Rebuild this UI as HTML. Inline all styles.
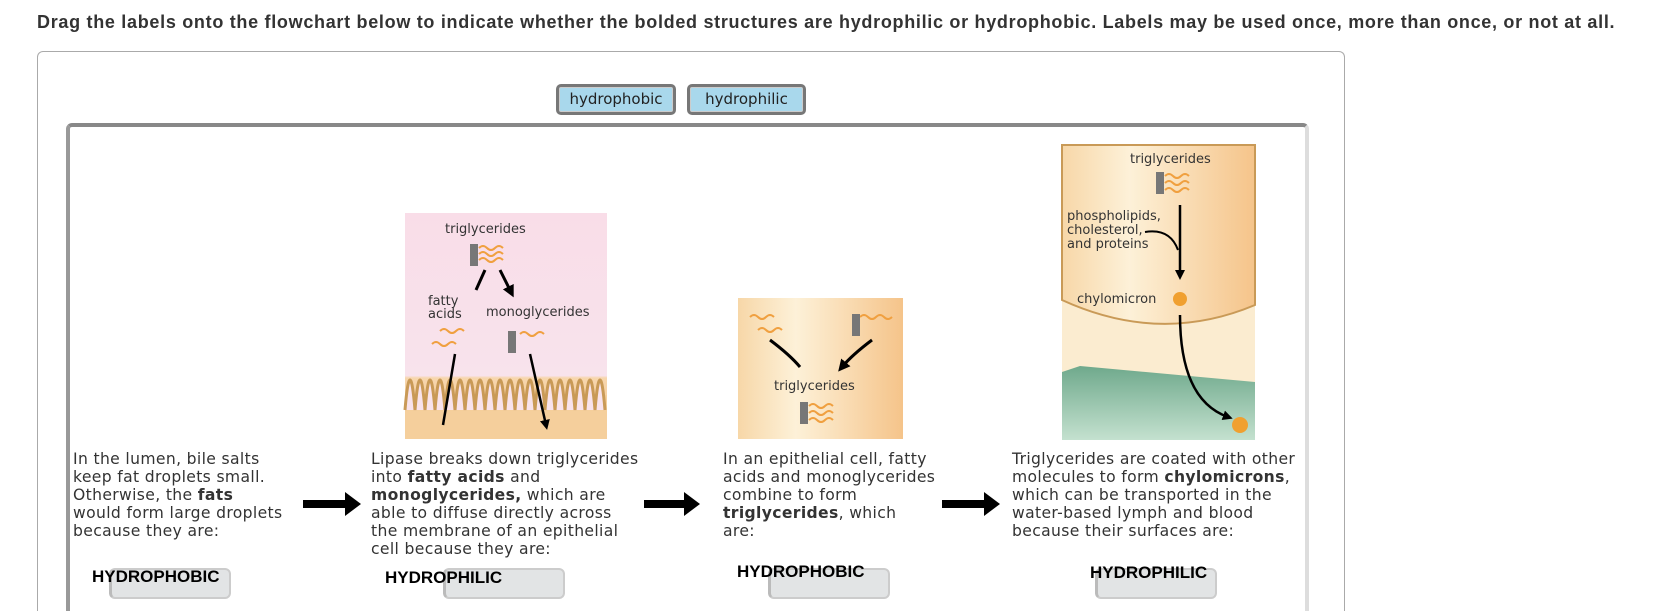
<!DOCTYPE html>
<html style="overflow:hidden;height:611px"><head><meta charset="utf-8"><style>
html,body{margin:0;width:1654px;height:611px;overflow:hidden;background:#fff}
body{position:relative;font-family:"Liberation Sans",Arial,sans-serif}
.t{position:absolute;left:37px;top:12px;font-weight:bold;font-size:18px;letter-spacing:0.7px;color:#333;white-space:nowrap}
.outer{position:absolute;left:37px;top:51px;width:1308px;height:560px;border:1px solid #aaa;border-bottom:none;border-radius:6px 6px 0 0;box-sizing:border-box}
.btn{position:absolute;top:84px;height:31px;background:#a9d8ec;border:3px solid #777;border-radius:5px;box-sizing:border-box;font-family:"DejaVu Sans",sans-serif;font-size:15px;color:#222;text-align:center;line-height:24px;box-shadow:inset 0 0 0 1px #ccc}
.panel{position:absolute;left:66px;top:123px;width:1243px;height:488px;border-top:4px solid #888;border-left:4px solid #999;border-right:4px solid #ddd;border-radius:6px 6px 0 0;box-sizing:border-box}
.tx{position:absolute;font-family:"DejaVu Sans",sans-serif;font-size:15.6px;letter-spacing:0.35px;line-height:18px;color:#333;white-space:nowrap}
.box{position:absolute;height:31px;width:122px;background:#e2e4e5;border:2px solid #ccc;border-radius:6px;box-sizing:border-box;border-left:3px solid #bbb}
.lab{position:absolute;font-weight:bold;font-size:17px;color:#000;font-family:"Liberation Sans",sans-serif}
</style></head><body>
<div class="t">Drag the labels onto the flowchart below to indicate whether the bolded structures are hydrophilic or hydrophobic. Labels may be used once, more than once, or not at all.</div>
<div class="outer"></div>
<div class="btn" style="left:556px;width:120px">hydrophobic</div>
<div class="btn" style="left:687px;width:119px">hydrophilic</div>
<div class="panel"></div>
<svg width="1654" height="611" style="position:absolute;left:0;top:0">
<defs>
<linearGradient id="pk" x1="0" y1="0" x2="0" y2="1"><stop offset="0" stop-color="#f9dde8"/><stop offset="0.72" stop-color="#f8e3ec"/><stop offset="0.73" stop-color="#f7d6ad"/><stop offset="1" stop-color="#f3c48d"/></linearGradient>
<linearGradient id="or" x1="0" y1="0" x2="1" y2="0"><stop offset="0" stop-color="#f7d7a8"/><stop offset="0.35" stop-color="#fdf1d8"/><stop offset="1" stop-color="#f5c48a"/></linearGradient>
<linearGradient id="gr" x1="0" y1="0" x2="0" y2="1"><stop offset="0" stop-color="#6fa98c"/><stop offset="1" stop-color="#c4e1cf"/></linearGradient>
<marker id="ah" markerWidth="4" markerHeight="4" refX="2" refY="2" orient="auto"><path d="M0,0L4,2L0,4Z" fill="#000"/></marker>
</defs>
<rect x="405" y="213" width="202" height="226" fill="url(#pk)"/>
<rect x="405" y="395" width="202" height="44" fill="#f5cf9c"/>
<path d="M405,410 q5,-60 10,0 q5,-60 10,0 q5,-60 10,0 q5,-60 10,0 q5,-60 10,0 q5,-60 10,0 q5,-60 10,0 q5,-60 10,0 q5,-60 10,0 q5,-60 10,0 q5,-60 10,0 q5,-60 10,0 q5,-60 10,0 q5,-60 10,0 q5,-60 10,0 q5,-60 10,0 q5,-60 10,0 q5,-60 10,0 q5,-60 10,0 q5,-60 10,0" fill="#f8e3ec" stroke="#c99a57" stroke-width="3"/>
<text x="445" y="233" font-family="DejaVu Sans" font-size="13" fill="#333">triglycerides</text>
<rect x="470" y="244" width="8" height="22" fill="#777"/>
<path d="M479,248 q4,-4 8,0 t8,0 t8,0 M479,254 q4,-4 8,0 t8,0 t8,0 M479,260 q4,-4 8,0 t8,0 t8,0" fill="none" stroke="#f0a040" stroke-width="2"/>
<path d="M485,270 L476,290 M500,270 L511,292" stroke="#000" stroke-width="3" marker-end="url(#ah)"/>
<text x="428" y="305" font-family="DejaVu Sans" font-size="13" fill="#333">fatty</text>
<text x="428" y="318" font-family="DejaVu Sans" font-size="13" fill="#333">acids</text>
<text x="486" y="316" font-family="DejaVu Sans" font-size="13" fill="#333">monoglycerides</text>
<path d="M440,331 q4,-4 8,0 t8,0 t8,0 M432,344 q4,-4 8,0 t8,0 t8,0 M520,334 q4,-4 8,0 t8,0 t8,0" fill="none" stroke="#f0a040" stroke-width="2"/>
<rect x="508" y="331" width="8" height="22" fill="#777"/>
<path d="M455,354 L443,425 M530,354 L546,425" stroke="#000" stroke-width="2.5" marker-end="url(#ah)"/>
<rect x="738" y="298" width="165" height="141" fill="url(#or)"/>
<path d="M750,317 q4,-4 8,0 t8,0 t8,0 M758,330 q4,-4 8,0 t8,0 t8,0 M860,317 q4,-4 8,0 t8,0 t8,0 t8,0" fill="none" stroke="#f0a040" stroke-width="2"/>
<rect x="852" y="314" width="8" height="22" fill="#777"/>
<path d="M770,340 Q790,355 800,367 M872,340 Q852,355 842,367" fill="none" stroke="#000" stroke-width="3" marker-end="url(#ah)"/>
<text x="774" y="390" font-family="DejaVu Sans" font-size="13" fill="#333">triglycerides</text>
<rect x="800" y="402" width="8" height="22" fill="#777"/>
<path d="M809,406 q4,-4 8,0 t8,0 t8,0 M809,413 q4,-4 8,0 t8,0 t8,0 M809,420 q4,-4 8,0 t8,0 t8,0" fill="none" stroke="#f0a040" stroke-width="2"/>
<rect x="1062" y="145" width="193" height="295" fill="#fbecd0"/>
<path d="M1062,145 H1255 V305 Q1160,345 1062,300 Z" fill="url(#or)" stroke="#c99a57" stroke-width="2"/>
<path d="M1062,372 L1080,366 L1255,382 V440 H1062 Z" fill="url(#gr)"/>
<text x="1130" y="163" font-family="DejaVu Sans" font-size="13" fill="#333">triglycerides</text>
<rect x="1156" y="172" width="8" height="22" fill="#777"/>
<path d="M1165,176 q4,-4 8,0 t8,0 t8,0 M1165,183 q4,-4 8,0 t8,0 t8,0 M1165,190 q4,-4 8,0 t8,0 t8,0" fill="none" stroke="#f0a040" stroke-width="2"/>
<text x="1067" y="220" font-family="DejaVu Sans" font-size="13" fill="#333">phospholipids,</text>
<text x="1067" y="234" font-family="DejaVu Sans" font-size="13" fill="#333">cholesterol,</text>
<text x="1067" y="248" font-family="DejaVu Sans" font-size="13" fill="#333">and proteins</text>
<path d="M1180,205 V275" stroke="#000" stroke-width="2.5" marker-end="url(#ah)"/>
<path d="M1145,232 Q1170,228 1178,250" fill="none" stroke="#000" stroke-width="2"/>
<text x="1077" y="303" font-family="DejaVu Sans" font-size="13" fill="#333">chylomicron</text>
<circle cx="1180" cy="299" r="7" fill="#f0a030"/>
<path d="M1180,315 Q1180,400 1228,417" fill="none" stroke="#000" stroke-width="2.5" marker-end="url(#ah)"/>
<circle cx="1240" cy="425" r="8" fill="#f0a030"/>
<path d="M303,500 H345 V492 L361,504 L345,516 V508 H303 Z" fill="#000"/>
<path d="M644,500 H684 V492 L700,504 L684,516 V508 H644 Z" fill="#000"/>
<path d="M942,500 H984 V492 L1000,504 L984,516 V508 H942 Z" fill="#000"/>
</svg>
<div class="tx" style="left:73px;top:450px">In the lumen, bile salts<br>keep fat droplets small.<br>Otherwise, the <b>fats</b><br>would form large droplets<br>because they are:</div>
<div class="tx" style="left:371px;top:450px">Lipase breaks down triglycerides<br>into <b>fatty acids</b> and<br><b>monoglycerides,</b> which are<br>able to diffuse directly across<br>the membrane of an epithelial<br>cell because they are:</div>
<div class="tx" style="left:723px;top:450px">In an epithelial cell, fatty<br>acids and monoglycerides<br>combine to form<br><b>triglycerides</b>, which<br>are:</div>
<div class="tx" style="left:1012px;top:450px">Triglycerides are coated with other<br>molecules to form <b>chylomicrons</b>,<br>which can be transported in the<br>water-based lymph and blood<br>because their surfaces are:</div>
<div class="box" style="left:109px;top:568px"></div>
<div class="box" style="left:443px;top:568px"></div>
<div class="box" style="left:768px;top:568px"></div>
<div class="box" style="left:1095px;top:568px"></div>
<div class="lab" style="left:92px;top:567px">HYDROPHOBIC</div>
<div class="lab" style="left:385px;top:568px">HYDROPHILIC</div>
<div class="lab" style="left:737px;top:562px">HYDROPHOBIC</div>
<div class="lab" style="left:1090px;top:563px">HYDROPHILIC</div>
</body></html>
